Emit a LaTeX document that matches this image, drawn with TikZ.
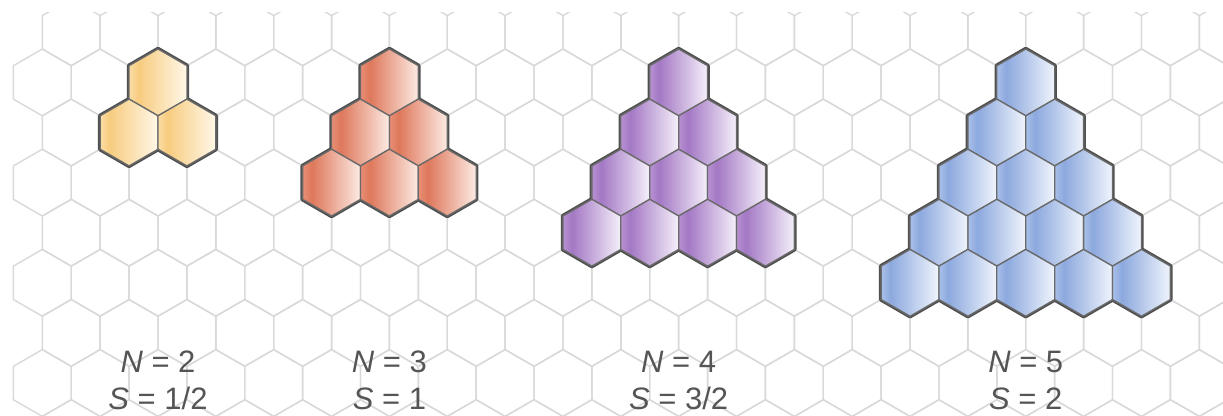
\documentclass[tikz,border=0pt]{standalone}
\usepackage{fontspec}
\setmainfont{Liberation Sans}
\definecolor{gridc}{HTML}{D9D9D9}
\definecolor{edgec}{HTML}{505050}
\definecolor{textc}{HTML}{555555}
\pgfdeclarehorizontalshading{yelsh}{100bp}{rgb(0bp)=(0.98,0.87,0.65); rgb(25bp)=(0.98,0.87,0.65); rgb(33bp)=(0.97,0.80,0.50); rgb(75bp)=(1,0.97,0.91); rgb(100bp)=(1,0.97,0.91)}
\pgfdeclarehorizontalshading{redsh}{100bp}{rgb(0bp)=(0.91,0.56,0.46); rgb(25bp)=(0.91,0.56,0.46); rgb(33bp)=(0.87,0.47,0.36); rgb(75bp)=(0.99,0.92,0.89); rgb(100bp)=(0.99,0.92,0.89)}
\pgfdeclarehorizontalshading{pursh}{100bp}{rgb(0bp)=(0.72,0.57,0.82); rgb(25bp)=(0.72,0.57,0.82); rgb(33bp)=(0.64,0.47,0.77); rgb(75bp)=(0.96,0.94,0.98); rgb(100bp)=(0.96,0.94,0.98)}
\pgfdeclarehorizontalshading{blush}{100bp}{rgb(0bp)=(0.66,0.75,0.91); rgb(25bp)=(0.66,0.75,0.91); rgb(33bp)=(0.55,0.66,0.87); rgb(75bp)=(0.94,0.96,0.99); rgb(100bp)=(0.94,0.96,0.99)}
\newcommand{\hexat}[2]{({#1},{#2-33.4}) -- ({#1+28.925},{#2-16.7}) -- ({#1+28.925},{#2+16.7}) -- ({#1},{#2+33.4}) -- ({#1-28.925},{#2+16.7}) -- ({#1-28.925},{#2-16.7}) -- cycle}
\newcommand{\hextri}[3]{%
  \foreach \r in {0,...,#2}{
    \foreach \j in {0,...,\r}{
      \pgfmathsetmacro\hx{#1-28.925*\r+57.85*\j}
      \pgfmathsetmacro\hy{82.4+50.1*\r}
      \draw[under] \hexat{\hx}{\hy};
    }}
  \foreach \r in {0,...,#2}{
    \foreach \j in {0,...,\r}{
      \pgfmathsetmacro\hx{#1-28.925*\r+57.85*\j}
      \pgfmathsetmacro\hy{82.4+50.1*\r}
      \shadedraw[cell, shading=#3] \hexat{\hx}{\hy};
    }}
}
\tikzset{
  gridline/.style={draw=gridc, line width=1.4pt, line join=round},
  under/.style={draw=edgec, line width=4.4pt, line join=round},
  cell/.style={draw=edgec!85, line width=1.3pt, line join=round},
  lab/.style={anchor=base, inner sep=0pt, text=textc, font=\fontsize{31}{31}\selectfont}
}
\begin{document}
\begin{tikzpicture}[x=1pt, y=-1pt]
\useasboundingbox (0,0) rectangle (1223,415);
\fill[white] (0,0) rectangle (1223,415);
\begin{scope}
  \clip (0,12) rectangle (1223,415);
  \foreach \r in {-1,...,7}{
    \pgfmathsetmacro\hy{82.4+50.1*\r}
    \pgfmathsetmacro\off{mod(\r+2,2)*28.925}
    \foreach \k in {0,...,21}{
      \pgfmathsetmacro\hx{42.3+\off+57.85*\k}
      \draw[gridline] \hexat{\hx}{\hy};
    }}
\end{scope}
\hextri{158.0}{1}{yelsh}
\hextri{389.4}{2}{redsh}
\hextri{678.65}{3}{pursh}
\hextri{1025.75}{4}{blush}
\node[lab] (n2) at (158,372) {\textit{N} = 2};
\node[lab] (s2) at (158,409) {\textit{S} = 1/2};
\node[lab] (n3) at (389.4,372) {\textit{N} = 3};
\node[lab] (s3) at (389.4,409) {\textit{S} = 1};
\node[lab] (n4) at (678.65,372) {\textit{N} = 4};
\node[lab] (s4) at (678.65,409) {\textit{S} = 3/2};
\node[lab] (n5) at (1025.75,372) {\textit{N} = 5};
\node[lab] (s5) at (1025.75,409) {\textit{S} = 2};
\end{tikzpicture}
\end{document}
